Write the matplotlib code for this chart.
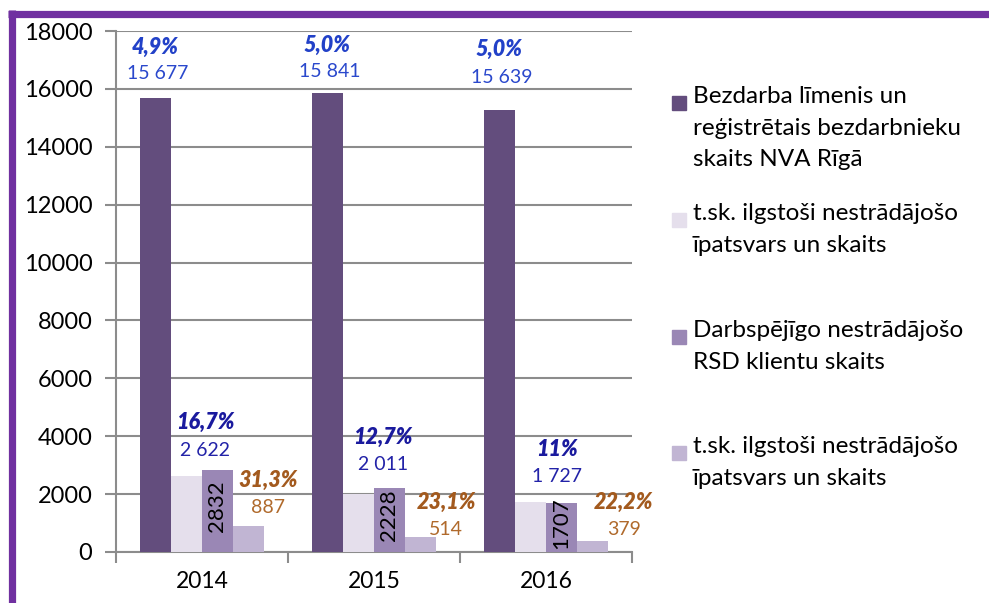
import matplotlib.pyplot as plt
import matplotlib.lines as mlines
import matplotlib.patches as mpatches
import numpy as np

plt.rcParams['font.family'] = ['Lato', 'DejaVu Sans']

years = ['2014', '2015', '2016']
unemployed = [15677, 15841, 15280]
unemployed_long = [2622, 2011, 1727]
rsd_clients = [2832, 2228, 1707]
rsd_long = [887, 514, 379]

unemployed_pct = ['4,9%', '5,0%', '5,0%']
unemployed_txt = ['15 677', '15 841', '15 639']
long_pct = ['16,7%', '12,7%', '11%']
long_txt = ['2 622', '2 011', '1 727']
rsd_long_pct = ['31,3%', '23,1%', '22,2%']
rsd_long_txt = ['887', '514', '379']

legend_labels = ['Bezdarba līmenis un\nreģistrētais bezdarbnieku\nskaits NVA Rīgā',
                 't.sk. ilgstoši nestrādājošo\nīpatsvars un skaits',
                 'Darbspējīgo nestrādājošo\nRSD klientu skaits',
                 't.sk. ilgstoši nestrādājošo\nīpatsvars un skaits']

colours = ['#634D7D', '#E5DFEC', '#9A87B5', '#C1B5D3']
grid_col = '#8C8C8C'

fig = plt.figure(figsize=(9.89, 6.03), dpi=100)
W, H = 989., 603.
ax = fig.add_axes([116/W, 1-552/H, (632-116)/W, (552-31)/H])

x = np.arange(len(years))
w = 0.18
series = [unemployed, unemployed_long, rsd_clients, rsd_long]
offsets = [-0.27, -0.09, 0.09, 0.27]
for s, off, c in zip(series, offsets, colours):
    ax.bar(x + off, s, w, color=c, zorder=3)

ax.set_xlim(-0.5, 2.5)
ax.set_ylim(0, 18000)
ax.set_yticks(np.arange(0, 18001, 2000))
ax.yaxis.grid(True, color=grid_col, lw=1.5, zorder=0)
ax.set_xticks(x)
ax.set_xticklabels(years)
ax.set_xticks([-0.5, 0.5, 1.5, 2.5], minor=True)
ax.tick_params(axis='x', which='major', length=0, labelsize=16.5, pad=14)
ax.tick_params(axis='x', which='minor', length=8, width=1.5, color=grid_col)
ax.tick_params(axis='y', length=8, width=1.5, color=grid_col, labelsize=17, pad=9)
for sp in ['top', 'right']:
    ax.spines[sp].set_visible(False)
for sp in ['left', 'bottom']:
    ax.spines[sp].set_color(grid_col)
    ax.spines[sp].set_linewidth(1.5)

# data labels
top_y = [(17450, 16520), (17520, 16590), (17380, 16410)]
mid_x = [0.02, 0.05, 0.064]
mid_y = [(4480, 3520), (3970, 3030), (3550, 2620)]
low_x = [0.384, 0.419, 0.453]
low_y = [(2480, 1550), (1720, 790), (1720, 790)]
pct_kw = dict(ha='center', va='center', fontsize=15.5, fontweight='heavy', style='italic')
num_kw = dict(ha='center', va='center', fontsize=14)
for i in range(3):
    ax.text(x[i] - 0.275, top_y[i][0], unemployed_pct[i], color='#2241C8', **pct_kw)
    ax.text(x[i] - 0.255, top_y[i][1], unemployed_txt[i], color='#2A48CC', **num_kw)
    ax.text(x[i] + mid_x[i], mid_y[i][0], long_pct[i], color='#1A1A9E', **pct_kw)
    ax.text(x[i] + mid_x[i], mid_y[i][1], long_txt[i], color='#2323A8', **num_kw)
    ax.text(x[i] + low_x[i], low_y[i][0], rsd_long_pct[i], color='#A35A1E', **pct_kw)
    ax.text(x[i] + low_x[i], low_y[i][1], rsd_long_txt[i], color='#B06A2C', **num_kw)
    ax.text(x[i] + 0.09, rsd_clients[i] / 2 + 150, str(rsd_clients[i]), rotation=90,
            ha='center', va='center', color='black', fontsize=16, zorder=4)

# legend
item_y = [103, 220, 337, 453]
for lab, c, yy in zip(legend_labels, colours, item_y):
    fig.add_artist(mpatches.Rectangle((672/W, 1-(yy+7)/H), 14/W, 14/H,
                                      transform=fig.transFigure, color=c))
    fig.text(693/W, 1-(yy-17)/H, lab, ha='left', va='top', fontsize=17.5,
             linespacing=1.62)

# purple frame
fig.add_artist(mlines.Line2D([11.5/W, 11.5/W], [0, 1-10/H], color='#7030A0', lw=5.2,
                             transform=fig.transFigure, solid_capstyle='butt'))
fig.add_artist(mlines.Line2D([8/W, 1], [1-13.5/H, 1-13.5/H], color='#7030A0', lw=5.2,
                             transform=fig.transFigure, solid_capstyle='butt'))

fig.savefig('out.png', dpi=100)
